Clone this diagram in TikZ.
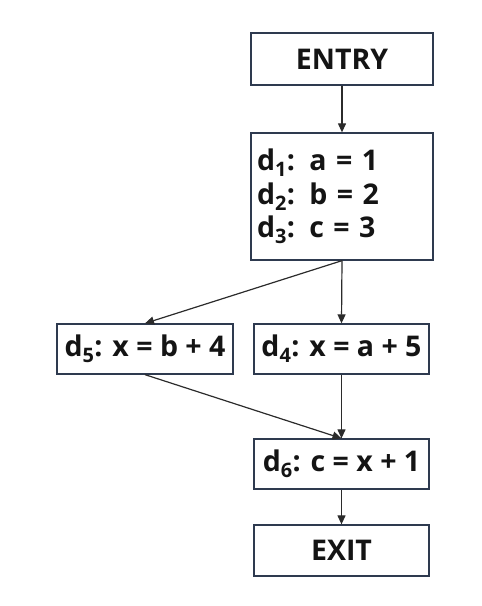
\documentclass[tikz,border=0pt]{standalone}
\usepackage{fontspec}
\setmainfont{Open Sans}
\usetikzlibrary{arrows.meta}
\definecolor{boxline}{HTML}{2E3A4F}
\definecolor{arrowcol}{HTML}{2B2B2B}
\definecolor{txt}{HTML}{141414}
\begin{document}
\begin{tikzpicture}[x=1pt,y=-1pt,
  blk/.style={draw=boxline,line width=1.3pt,fill=white,rectangle,inner sep=0pt,
    font=\fontsize{28.5}{33.5}\selectfont\bfseries,text=txt},
  flow/.style={draw=arrowcol,line width=1.2pt,-{Triangle[length=9pt,width=8pt]}}]
\useasboundingbox (0,0) rectangle (482,606);
\node[blk,minimum width=182pt,minimum height=52pt] (entry) at (342,59) {ENTRY};
\node[blk,minimum width=182pt,minimum height=127pt,text width=170pt,align=left] (b1) at (342,196.5)
  {d\textsubscript{1}:\hspace{0.5em}a = 1\\d\textsubscript{2}:\hspace{0.5em}b = 2\\d\textsubscript{3}:\hspace{0.5em}c = 3};
\node[blk,minimum width=176pt,minimum height=50pt] (d5) at (145,349) {d\textsubscript{5}: x = b + 4};
\node[blk,minimum width=175pt,minimum height=50pt] (d4) at (341.5,349) {d\textsubscript{4}: x = a + 5};
\node[blk,minimum width=175pt,minimum height=50pt] (d6) at (341.5,464) {d\textsubscript{6}: c = x + 1};
\node[blk,minimum width=175pt,minimum height=51pt] (exit) at (341.5,550.5) {EXIT};
\draw[flow] (entry.south) -- (b1.south |- b1.north);
\draw[flow] (b1.south) -- (d4.north);
\draw[flow] (b1.south) -- (d5.north);
\draw[flow] (d4.south) -- (d6.north);
\draw[flow] (d5.south) -- (d6.north);
\draw[flow] (d6.south) -- (exit.north);
\end{tikzpicture}
\end{document}
